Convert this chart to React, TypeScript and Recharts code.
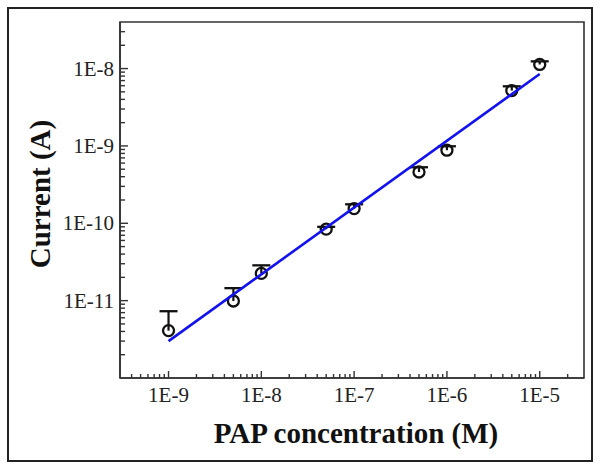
import React from 'react';
import { ScatterChart, Scatter, XAxis, YAxis, ErrorBar, ReferenceArea, Label } from 'recharts';

// measured points (PAP concentration in M, current in A)
const concentrations = [1e-9, 5e-9, 1e-8, 5e-8, 1e-7, 5e-7, 1e-6, 5e-6, 1e-5];
const currents = [4.1e-12, 9.9e-12, 2.25e-11, 8.4e-11, 1.55e-10, 4.6e-10, 8.8e-10, 5.2e-9, 1.13e-8];
const currentErrors = [3.2e-12, 4.6e-12, 6.1e-12, 6e-12, 2.1e-11, 7e-11, 1.1e-10, 7e-10, 1.1e-9];

// linear fit in log-log space, drawn between its end points
const fitX = [1e-9, 1e-5];
const fitY = [3.0e-12, 8.5e-9];

const xDomain = [3e-10, 3e-5];
const yDomain = [1e-12, 4e-8];
const xMajorTicks = [1e-9, 1e-8, 1e-7, 1e-6, 1e-5];
const xTickLabels = ['1E-9', '1E-8', '1E-7', '1E-6', '1E-5'];
const yMajorTicks = [1e-12, 1e-11, 1e-10, 1e-9, 1e-8];
const yTickLabels = ['1E-12', '1E-11', '1E-10', '1E-9', '1E-8'];

const FONT = "'Liberation Serif', 'Times New Roman', serif";
const AXIS = '#333';

// decade ticks plus 2..9 minor ticks inside the domain
const logTicks = (lo: number, hi: number) => {
  const out: number[] = [];
  for (let d = Math.floor(Math.log10(lo)); d <= Math.ceil(Math.log10(hi)); d++) {
    for (let m = 1; m <= 9; m++) {
      const v = m * Math.pow(10, d);
      if (v > lo * 1.000001 && v < hi * 0.999999) out.push(v);
    }
  }
  return out;
};

const majorIndex = (majors: number[], v: number) =>
  majors.findIndex((t) => Math.abs(t - v) / t < 1e-6);

const labelStyle = { fontFamily: FONT, fontSize: 21, fill: '#222' };
const titleStyle = { fontFamily: FONT, fontSize: 29, fontWeight: 'bold' as const, fill: '#111' };

const XTick = (props: any) => {
  const { x, y, payload } = props;
  const i = majorIndex(xMajorTicks, payload.value);
  const len = i >= 0 ? 7 : 4;
  return (
    <g>
      <line x1={x} y1={y} x2={x} y2={y - len} stroke={AXIS} strokeWidth={1.4} />
      {i >= 0 && (
        <text x={x} y={y + 24} textAnchor="middle" style={labelStyle}>
          {xTickLabels[i]}
        </text>
      )}
    </g>
  );
};

const YTick = (props: any) => {
  const { x, y, payload } = props;
  const i = majorIndex(yMajorTicks, payload.value);
  const len = i >= 0 ? 8 : 5;
  return (
    <g>
      <line x1={x} y1={y} x2={x + len} y2={y} stroke={AXIS} strokeWidth={1.4} />
      {i >= 0 && (
        <text x={x - 6} y={y + 7} textAnchor="end" style={labelStyle}>
          {yTickLabels[i]}
        </text>
      )}
    </g>
  );
};

const pointData = concentrations.map((c, i) => ({ x: c, y: currents[i], err: [0, currentErrors[i]] }));
const capData = concentrations.map((c, i) => ({ x: c, y: currents[i] + currentErrors[i] }));
const fitData = fitX.map((x, i) => ({ x, y: fitY[i] }));

const App: React.FC = () => {
  return (
    <div style={{ position: 'absolute', left: 0, top: 0, width: 602, height: 471, background: '#fff' }}>
      <ScatterChart width={602} height={471} margin={{ top: 22, right: 18, left: 20, bottom: 20 }}>
        <XAxis
          type="number"
          dataKey="x"
          scale="log"
          domain={xDomain}
          allowDataOverflow
          ticks={logTicks(xDomain[0], xDomain[1])}
          interval={0}
          tick={<XTick />}
          tickLine={false}
          tickSize={0}
          tickMargin={0}
          height={73}
          axisLine={{ stroke: AXIS, strokeWidth: 1.6 }}
        >
          <Label
            content={(p: any) => (
              <text x={p.viewBox.x + p.viewBox.width / 2 + 4} y={443} textAnchor="middle" style={titleStyle}>
                PAP concentration (M)
              </text>
            )}
          />
        </XAxis>
        <YAxis
          type="number"
          dataKey="y"
          scale="log"
          domain={yDomain}
          allowDataOverflow
          ticks={logTicks(yDomain[0], yDomain[1])}
          interval={0}
          tick={<YTick />}
          tickLine={false}
          tickSize={0}
          tickMargin={0}
          width={100}
          axisLine={{ stroke: AXIS, strokeWidth: 1.6 }}
        >
          <Label
            content={(p: any) => {
              const cx = 50;
              const cy = p.viewBox.y + p.viewBox.height / 2 - 6;
              return (
                <text x={cx} y={cy} transform={`rotate(-90, ${cx}, ${cy})`} textAnchor="middle" style={titleStyle}>
                  Current (A)
                </text>
              );
            }}
          />
        </YAxis>
        <ReferenceArea
          x1={xDomain[0]}
          x2={xDomain[1]}
          y1={yDomain[0]}
          y2={yDomain[1]}
          stroke={AXIS}
          strokeWidth={1.6}
          fill="none"
          fillOpacity={0}
        />
        <Scatter
          data={pointData}
          isAnimationActive={false}
          shape={(p: any) => (
            <circle cx={p.cx} cy={p.cy} r={5.5} fill="none" stroke="#111" strokeWidth={2.3} />
          )}
        >
          <ErrorBar dataKey="err" direction="y" width={0} stroke="#111" strokeWidth={2.2} />
        </Scatter>
        <Scatter
          data={capData}
          isAnimationActive={false}
          shape={(p: any) => (
            <line x1={p.cx - 9} y1={p.cy} x2={p.cx + 9} y2={p.cy} stroke="#111" strokeWidth={2.3} />
          )}
        />
        <Scatter
          data={fitData}
          isAnimationActive={false}
          line={{ stroke: '#1212ee', strokeWidth: 2.6 }}
          shape={() => <g />}
        />
      </ScatterChart>
      <div
        style={{
          position: 'absolute',
          left: 7,
          top: 7,
          width: 586,
          height: 455,
          border: '2px solid #222',
          boxSizing: 'border-box',
          pointerEvents: 'none',
        }}
      />
    </div>
  );
};

export default App;
